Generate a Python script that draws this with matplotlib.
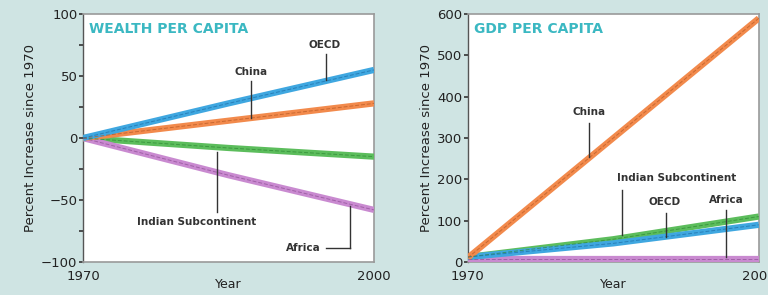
import matplotlib.pyplot as plt

plt.rcParams['font.family'] = ['DejaVu Sans']

years = [1970, 1985, 2000]

# wealth per capita, percent change since 1970
wealth_oecd = [0, 28, 55]
wealth_china = [0, 14, 28]
wealth_india = [0, -8, -15]
wealth_africa = [0, -30, -58]

# gdp per capita, percent change since 1970
gdp_china = [10, 300, 590]
gdp_india = [12, 55, 110]
gdp_oecd = [12, 45, 90]
gdp_africa = [6, 6, 6]

BG = '#cfe4e3'
TEAL = '#3bb8c2'
colors = {'OECD': '#3fa7e0', 'China': '#f28a4c',
          'India': '#5cbd5c', 'Africa': '#c98ad0'}
dark = {'OECD': '#1f6fa8', 'China': '#b85a25',
        'India': '#2f8a35', 'Africa': '#8f4f96'}


def fat_line(ax, y, key):
    ax.plot(years, y, color=colors[key], lw=4.5, solid_capstyle='butt', zorder=3)
    ax.plot(years, y, color=dark[key], lw=0.7, ls=(0, (4, 2)), alpha=0.7, zorder=4)


def leader(ax, x, y0, y1):
    ax.plot([x, x], [y0, y1], color='#333333', lw=1.0, zorder=5)


def style_axes(ax, title, yticks, ylim):
    ax.set_facecolor('white')
    ax.set_xlim(1970, 2000)
    ax.set_ylim(*ylim)
    ax.set_xticks([1970, 2000])
    ax.set_yticks(yticks)
    ax.tick_params(axis='y', length=3, width=1.2, pad=1, labelsize=9.5, color='#333333')
    ax.tick_params(axis='x', length=0, pad=6, labelsize=9.5)
    for lab in ax.get_xticklabels() + ax.get_yticklabels():
        lab.set_color('#222222')
    for s in ['top', 'right', 'bottom']:
        ax.spines[s].set_color('#9a9a9a')
        ax.spines[s].set_linewidth(1.2)
    ax.spines['left'].set_color('#555555')
    ax.spines['left'].set_linewidth(1.0)
    ax.set_xlabel('Year', fontsize=9, color='#222222', labelpad=-4)
    ax.set_ylabel('Percent Increase since 1970', fontsize=9.5, color='#222222', labelpad=3)
    ax.text(0.02, 0.97, title, transform=ax.transAxes, ha='left', va='top',
            color=TEAL, fontsize=10, fontweight='bold')


fig = plt.figure(figsize=(7.68, 2.95), dpi=100, facecolor=BG)

ax1 = fig.add_axes([0.108, 0.112, 0.379, 0.840])
style_axes(ax1, 'WEALTH PER CAPITA', [-100, -50, 0, 50, 100], (-100, 100))
ax1.set_yticks([-75, -25, 25, 75], minor=True)
ax1.tick_params(axis='y', which='minor', length=3, width=1.2, color='#333333')
ax1.set_yticklabels(['\u2212100', '\u221250', '0', '50', '100'])
fat_line(ax1, wealth_india, 'India')
fat_line(ax1, wealth_africa, 'Africa')
fat_line(ax1, wealth_china, 'China')
fat_line(ax1, wealth_oecd, 'OECD')

fs = 7.5
ax1.text(1994.9, 75, 'OECD', ha='center', va='center', fontsize=fs, fontweight='bold', color='#333333')
leader(ax1, 1995.0, 68, 47)
ax1.text(1987.3, 53, 'China', ha='center', va='center', fontsize=fs, fontweight='bold', color='#333333')
leader(ax1, 1987.3, 46, 16)
ax1.text(1981.7, -68, 'Indian Subcontinent', ha='center', va='center', fontsize=fs, fontweight='bold', color='#333333')
leader(ax1, 1983.8, -11, -60)
ax1.text(1992.7, -89, 'Africa', ha='center', va='center', fontsize=fs, fontweight='bold', color='#333333')
ax1.plot([1995.0, 1997.5], [-89, -89], color='#333333', lw=1.0, zorder=5)
leader(ax1, 1997.5, -89, -55)

ax2 = fig.add_axes([0.609, 0.112, 0.379, 0.840])
style_axes(ax2, 'GDP PER CAPITA', [0, 100, 200, 300, 400, 500, 600], (0, 600))
fat_line(ax2, gdp_africa, 'Africa')
fat_line(ax2, gdp_india, 'India')
fat_line(ax2, gdp_oecd, 'OECD')
fat_line(ax2, gdp_china, 'China')

ax2.text(1982.5, 364, 'China', ha='center', va='center', fontsize=fs, fontweight='bold', color='#333333')
leader(ax2, 1982.5, 337, 255)
ax2.text(1991.5, 204, 'Indian Subcontinent', ha='center', va='center', fontsize=fs, fontweight='bold', color='#333333')
leader(ax2, 1985.9, 175, 66)
ax2.text(1990.3, 146, 'OECD', ha='center', va='center', fontsize=fs, fontweight='bold', color='#333333')
leader(ax2, 1990.4, 119, 60)
ax2.text(1996.7, 150, 'Africa', ha='center', va='center', fontsize=fs, fontweight='bold', color='#333333')
leader(ax2, 1996.6, 126, 12)

fig.savefig('out.png', dpi=100, facecolor=BG)
